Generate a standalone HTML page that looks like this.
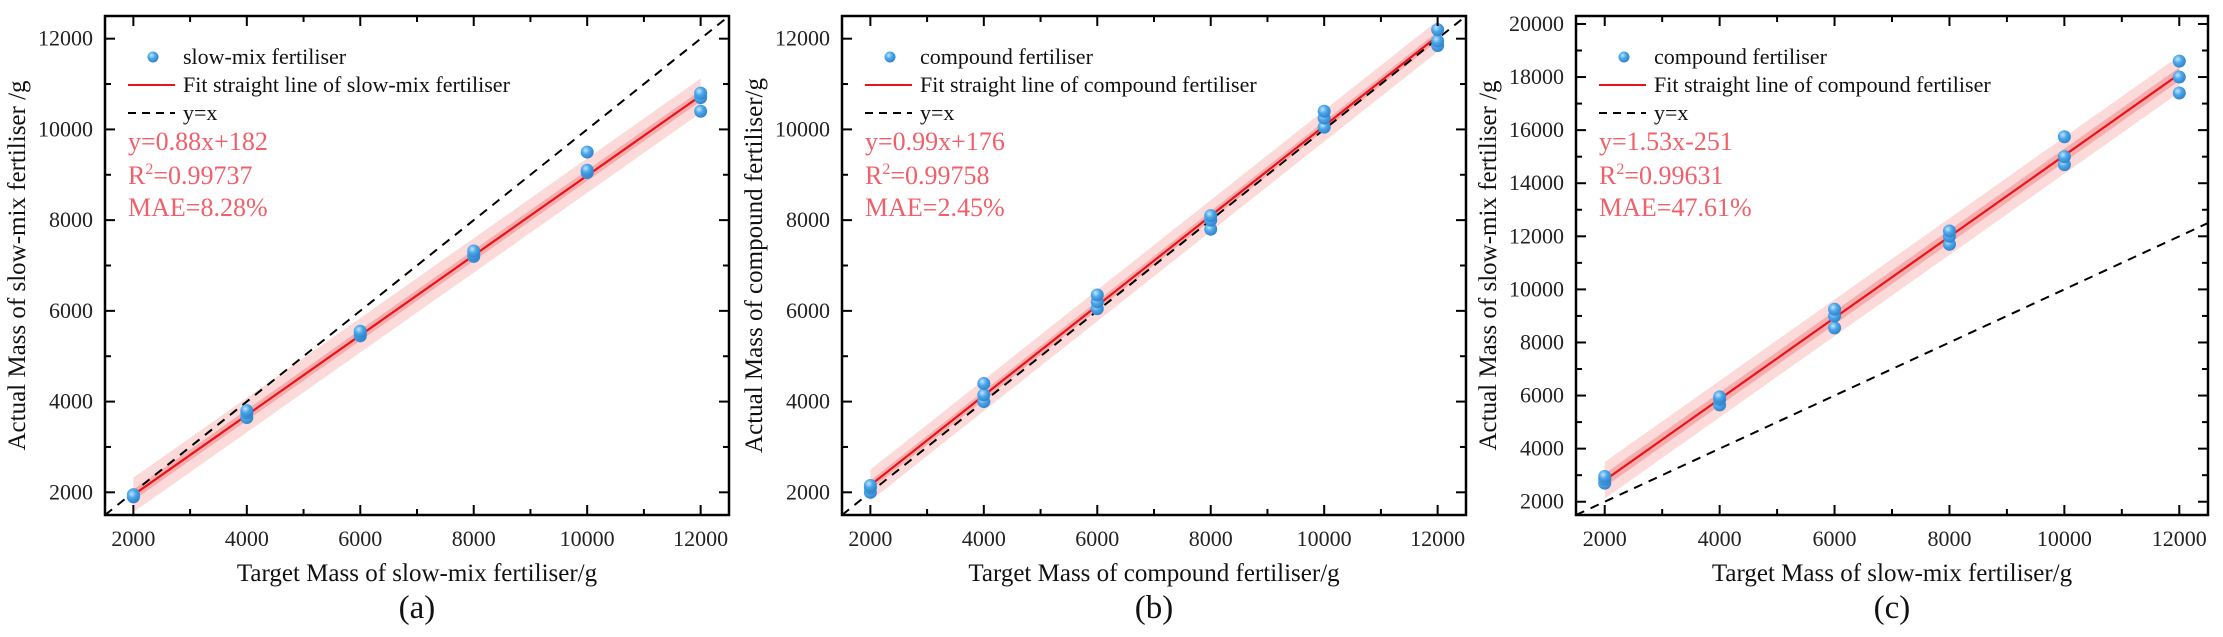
<!DOCTYPE html>
<html><head><meta charset="utf-8"><style>
html,body{margin:0;padding:0;background:#fff;}
svg{display:block;font-family:"Liberation Serif",serif;}
</style></head><body>
<svg id="fig" width="2223" height="637" viewBox="0 0 2223 637" xmlns="http://www.w3.org/2000/svg">
<defs>
<radialGradient id="ball" cx="0.38" cy="0.35" r="0.7">
<stop offset="0" stop-color="#bfe6ff"/><stop offset="0.45" stop-color="#4aa6ea"/><stop offset="1" stop-color="#2f7fc6"/>
</radialGradient>
</defs>
</svg>
<script>
// Panel (a) slow-mix fertiliser
const xTicks = [2000, 4000, 6000, 8000, 10000, 12000];
const targets = [2000, 4000, 6000, 8000, 10000, 12000];
const aValues = [[1900, 1950, 1920], [3650, 3750, 3800], [5450, 5500, 5550], [7200, 7250, 7320], [9050, 9100, 9500], [10400, 10700, 10800]];
const aYTicks = [2000, 4000, 6000, 8000, 10000, 12000];
const aFit = [0.88, 182];
const aStats = ["y=0.88x+182", "0.99737", "MAE=8.28%"];
// Panel (b) compound fertiliser
const bValues = [[2000, 2100, 2150], [4000, 4150, 4400], [6050, 6200, 6350], [7800, 8000, 8100], [10050, 10250, 10400], [11850, 11950, 12200]];
const bYTicks = [2000, 4000, 6000, 8000, 10000, 12000];
const bFit = [0.99, 176];
const bStats = ["y=0.99x+176", "0.99758", "MAE=2.45%"];
// Panel (c)
const cValues = [[2700, 2850, 2950], [5650, 5850, 5950], [8550, 9000, 9250], [11700, 12000, 12200], [14700, 15000, 15750], [17400, 18000, 18600]];
const cYTicks = [2000, 4000, 6000, 8000, 10000, 12000, 14000, 16000, 18000, 20000];
const cFit = [1.53, -251];
const cStats = ["y=1.53x-251", "0.99631", "MAE=47.61%"];

const NS = "http://www.w3.org/2000/svg";
const svg = document.getElementById('fig');
function mk(tag, attrs, parent, text){
  const e = document.createElementNS(NS, tag);
  for (const k in attrs) e.setAttribute(k, attrs[k]);
  if (text !== undefined) e.textContent = text;
  (parent || svg).appendChild(e);
  return e;
}

function panel(cfg){
  const g = mk('g', {});
  
  
  const L = cfg.left, R = cfg.right, T = 16, B = 515;
  const xs = v => L + (v - 1500) / 11000 * (R - L);
  const ys = v => B - (v - cfg.ymin) / (cfg.ymax - cfg.ymin) * (B - T);
  const clipId = 'clip-' + cfg.id;
  const cp = mk('clipPath', {id: clipId}, g);
  mk('rect', {x: L, y: T, width: R - L, height: B - T}, cp);
  const plot = mk('g', {'clip-path': 'url(#' + clipId + ')'}, g);

  const [m, c] = cfg.fit;
  const f = v => m * v + c;
  const x0 = 2000, x1 = 12000;
  const outer = mk('polygon', {points: [
    [xs(x0), ys(f(x0) + cfg.outer * 1.15)], [xs(x1), ys(f(x1) + cfg.outer * 1.15)],
    [xs(x1), ys(f(x1) - cfg.outer * 1.15)], [xs(x0), ys(f(x0) - cfg.outer * 1.15)]].map(p => p.join(',')).join(' '),
    fill: '#fbd3d3', 'fill-opacity': '0.85'}, plot);
  
  
  const inner = mk('polygon', {points: [
    [xs(x0), ys(f(x0) + cfg.inner)], [xs(x1), ys(f(x1) + cfg.inner)],
    [xs(x1), ys(f(x1) - cfg.inner)], [xs(x0), ys(f(x0) - cfg.inner)]].map(p => p.join(',')).join(' '),
    fill: '#f59a9a', 'fill-opacity': '0.7'}, plot);
  
  

  const yx = mk('line', {x1: xs(1500), y1: ys(1500), x2: xs(21000), y2: ys(21000), stroke: '#000', 'stroke-width': 2, 'stroke-dasharray': '9,7'}, plot);
  
  
  const fl = mk('line', {x1: xs(x0), y1: ys(f(x0)), x2: xs(x1), y2: ys(f(x1)), stroke: '#e8141a', 'stroke-width': 2.2}, plot);
  
  

  cfg.values.forEach((arr, i) => {
    arr.forEach((v, j) => {
      const p = mk('circle', {cx: xs(targets[i]), cy: ys(v), r: 6.5, fill: 'url(#ball)'}, g);
      
      
    });
  });

  const fr = mk('rect', {x: L, y: T, width: R - L, height: B - T, fill: 'none', stroke: '#000', 'stroke-width': 2.5}, g);
  
  

  for (let v = 2000; v <= 12000; v += 1000) {
    const major = v % 2000 === 0, len = major ? 10 : 6;
    mk('line', {x1: xs(v), y1: B, x2: xs(v), y2: B - len, stroke: '#000', 'stroke-width': 2}, g);
    mk('line', {x1: xs(v), y1: T, x2: xs(v), y2: T + len, stroke: '#000', 'stroke-width': 2}, g);
  }
  xTicks.forEach(v => {
    const t = mk('text', {x: xs(v), y: 546, 'font-size': 22, 'text-anchor': 'middle', fill: '#222'}, g, String(v));
    
    
  });
  const ystep = cfg.yTicks[1] - cfg.yTicks[0];
  for (let v = cfg.yTicks[0] - ystep / 2; v <= cfg.ymax; v += ystep / 2) {
    if (v < cfg.ymin) continue;
    const major = Math.round((v - cfg.yTicks[0]) / ystep * 2) % 2 === 0, len = major ? 10 : 6;
    mk('line', {x1: L, y1: ys(v), x2: L + len, y2: ys(v), stroke: '#000', 'stroke-width': 2}, g);
    mk('line', {x1: R, y1: ys(v), x2: R - len, y2: ys(v), stroke: '#000', 'stroke-width': 2}, g);
  }
  cfg.yTicks.forEach(v => {
    const t = mk('text', {x: L - 12, y: ys(v) + 7, 'font-size': 22, 'text-anchor': 'end', fill: '#222'}, g, String(v));
    
    
  });

  const xt = mk('text', {x: (L + R) / 2, y: 581, 'font-size': 25, 'text-anchor': 'middle', fill: '#111'}, g, cfg.xTitle);
  
  
  const yt = mk('text', {x: 0, y: 0, 'font-size': 25, 'text-anchor': 'middle', fill: '#111', transform: 'translate(' + (L - 80) + ',' + ((T + B) / 2) + ') rotate(-90)'}, g, cfg.yTitle);
  
  
  const cap = mk('text', {x: (L + R) / 2, y: 618, 'font-size': 33, 'text-anchor': 'middle', fill: '#111'}, g, cfg.caption);
  
  

  const lg = mk('g', {}, g);
  
  
  mk('circle', {cx: L + 48, cy: 57, r: 5.5, fill: 'url(#ball)'}, lg);
  mk('text', {x: L + 78, y: 64, 'font-size': 22, fill: '#111'}, lg, cfg.legend[0]);
  mk('line', {x1: L + 23, y1: 85, x2: L + 70, y2: 85, stroke: '#e8141a', 'stroke-width': 2}, lg);
  mk('text', {x: L + 78, y: 92, 'font-size': 22, fill: '#111'}, lg, cfg.legend[1]);
  mk('line', {x1: L + 23, y1: 113, x2: L + 70, y2: 113, stroke: '#000', 'stroke-width': 2, 'stroke-dasharray': '8,6'}, lg);
  mk('text', {x: L + 78, y: 120, 'font-size': 22, fill: '#111'}, lg, 'y=x');

  const st = mk('g', {fill: '#f0606a', 'font-size': 26}, g);
  
  
  mk('text', {x: L + 23, y: 150}, st, cfg.stats[0]);
  const r2 = mk('text', {x: L + 23, y: 184}, st);
  mk('tspan', {}, r2, 'R');
  mk('tspan', {dy: -10, 'font-size': 16}, r2, '2');
  mk('tspan', {dy: 10}, r2, '=' + cfg.stats[1]);
  mk('text', {x: L + 23, y: 216}, st, cfg.stats[2]);
}

panel({id: 'panel-a', left: 105, right: 729, ymin: 1500, ymax: 12500, values: aValues, yTicks: aYTicks, fit: aFit, stats: aStats,
  inner: 120, outer: 330,
  xTitle: 'Target Mass of slow-mix fertiliser/g', yTitle: 'Actual Mass of slow-mix fertiliser /g', caption: '(a)',
  legend: ['slow-mix fertiliser', 'Fit straight line of slow-mix fertiliser']});
panel({id: 'panel-b', left: 842, right: 1466, ymin: 1500, ymax: 12500, values: bValues, yTicks: bYTicks, fit: bFit, stats: bStats,
  inner: 100, outer: 300,
  xTitle: 'Target Mass of compound fertiliser/g', yTitle: 'Actual Mass of compound fertiliser/g', caption: '(b)',
  legend: ['compound fertiliser', 'Fit straight line of compound fertiliser']});
panel({id: 'panel-c', left: 1576, right: 2208, ymin: 1500, ymax: 20300, values: cValues, yTicks: cYTicks, fit: cFit, stats: cStats,
  inner: 250, outer: 600,
  xTitle: 'Target Mass of slow-mix fertiliser/g', yTitle: 'Actual Mass of slow-mix fertiliser /g', caption: '(c)',
  legend: ['compound fertiliser', 'Fit straight line of compound fertiliser']});
</script>
</body></html>
